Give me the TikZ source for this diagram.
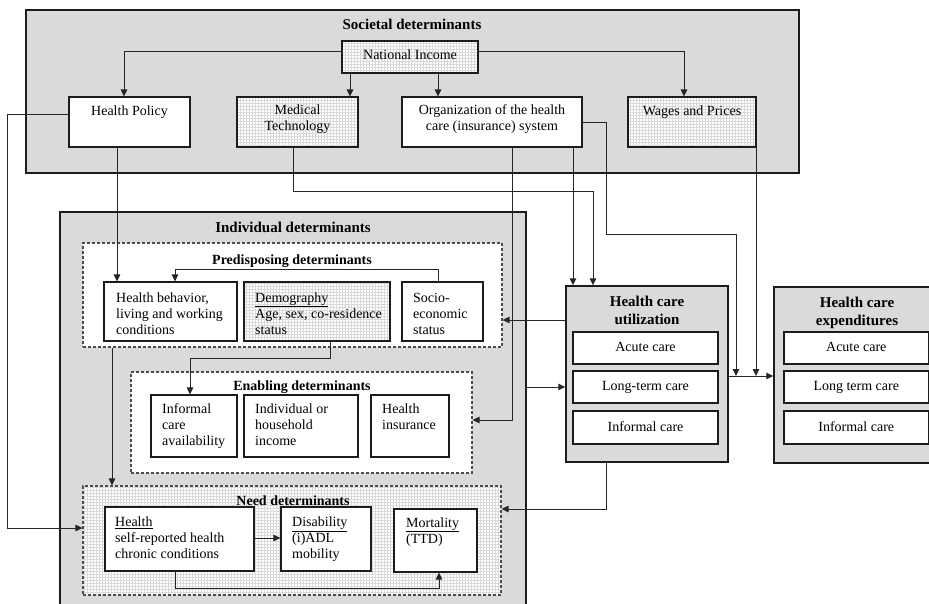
\documentclass[tikz,border=0pt]{standalone}
\usepackage{fontspec}
\setmainfont{Liberation Serif}
\usetikzlibrary{arrows.meta,patterns}
\definecolor{boxgray}{RGB}{217,218,220}
\definecolor{lineC}{RGB}{28,28,28}
\begin{document}
\begin{tikzpicture}[x=1pt,y=-1pt,
  big/.style={draw=lineC, line width=1.4pt, fill=boxgray, inner sep=0pt},
  wbox/.style={draw=lineC, line width=1.1pt, fill=white, inner sep=0pt},
  gbox/.style={draw=lineC, line width=1.1pt, preaction={fill=white}, pattern=grid, pattern color=black!15, inner sep=0pt},
  dbox/.style={draw=black!70, line width=1.1pt, dash pattern=on 3pt off 2pt, fill=white, inner sep=0pt},
  ndbox/.style={draw=black!70, line width=1.1pt, dash pattern=on 3pt off 2pt, preaction={fill=white}, pattern=grid, pattern color=black!15, inner sep=0pt},
  cbox/.style={wbox, font=\fontsize{14}{16}\selectfont, text height=7pt, text depth=0pt},
  tx/.style={font=\fontsize{14}{16}\selectfont, inner sep=0pt},
  ttl/.style={font=\bfseries\fontsize{15}{18}\selectfont, inner sep=0pt, align=center},
  sttl/.style={font=\bfseries\fontsize{14}{16}\selectfont, inner sep=0pt},
  con/.style={draw=black!85, line width=0.9pt},
  arr/.style={con, -{Triangle[length=7pt,width=6.5pt]}},
]
\useasboundingbox (0,0) rectangle (929,604);

% ---------- Societal determinants ----------
\node[big, minimum width=773, minimum height=163] (soc) at (412.5,91.5) {};
\node[ttl, anchor=base] (tSoc) at (412,30) {Societal determinants};
\node[gbox, minimum width=136, minimum height=32] (ni) at (410,57) {};
\node[tx, anchor=base] (tNI) at (410,60) {National Income};
\node[wbox, minimum width=121, minimum height=50] (hp) at (129.5,122) {};
\node[tx, anchor=base] (tHP) at (129.5,115.5) {Health Policy};
\node[gbox, minimum width=121, minimum height=50] (mt) at (297.5,122) {};
\node[tx, anchor=base, align=center] (tMT) at (297.5,131) {Medical\\Technology};
\node[wbox, minimum width=180, minimum height=50] (org) at (492,122) {};
\node[tx, anchor=base, align=center] (tOrg) at (492,131) {Organization of the health\\care (insurance) system};
\node[gbox, minimum width=128, minimum height=50] (wp) at (692,122) {};
\node[tx, anchor=base] (tWP) at (692,115.5) {Wages and Prices};

% ---------- Individual determinants ----------
\node[big, minimum width=466, minimum height=408] (indiv) at (293,416) {};
\node[ttl, anchor=base] (tInd) at (293,233) {Individual determinants};

\node[dbox, minimum width=419, minimum height=104] (pred) at (292.5,295) {};
\node[sttl, anchor=base] (tPred) at (292,264) {Predisposing determinants};
\node[wbox, minimum width=133, minimum height=59] (hb) at (170.5,311.5) {};
\node[tx, anchor=base west, align=left] (tHB) at (116,334) {Health behavior,\\living and working\\conditions};
\node[gbox, minimum width=146, minimum height=59] (demo) at (317,311.5) {};
\node[tx, anchor=base west, align=left] (tDemo) at (255,334) {\underline{Demography}\\Age, sex, co-residence\\status};
\node[wbox, minimum width=81, minimum height=59] (socio) at (442.5,311.5) {};
\node[tx, anchor=base west, align=left] (tSocio) at (413,334) {Socio-\\economic\\status};

\node[dbox, minimum width=341, minimum height=101] (enab) at (301.5,422.5) {};
\node[sttl, anchor=base] (tEnab) at (302,390) {Enabling determinants};
\node[wbox, minimum width=86, minimum height=62] (ica) at (194,426) {};
\node[tx, anchor=base west, align=left] (tICA) at (162,445) {Informal\\care\\availability};
\node[wbox, minimum width=114, minimum height=62] (ihi) at (301,426) {};
\node[tx, anchor=base west, align=left] (tIHI) at (255,445) {Individual or\\household\\income};
\node[wbox, minimum width=78, minimum height=62] (hi) at (410,426) {};
\node[tx, anchor=base west, align=left] (tHI) at (382,429) {Health\\insurance};

\node[ndbox, minimum width=418, minimum height=109] (need) at (292,540.5) {};
\node[sttl, anchor=base] (tNeed) at (293,505) {Need determinants};
\node[wbox, minimum width=149, minimum height=64] (health) at (179.5,539) {};
\node[tx, anchor=base west, align=left] (tHealth) at (115,558.5) {\underline{Health}\\self-reported health\\chronic conditions};
\node[wbox, minimum width=90, minimum height=64] (disab) at (326,539) {};
\node[tx, anchor=base west, align=left] (tDisab) at (292,558.5) {\underline{Disability}\\(i)ADL\\mobility};
\node[wbox, minimum width=83, minimum height=63] (mort) at (435.5,540.5) {};
\node[tx, anchor=base west, align=left] (tMort) at (406,543) {\underline{Mortality}\\(TTD)};

% ---------- Health care utilization ----------
\node[big, minimum width=162, minimum height=176] (hcu) at (647,374) {};
\node[ttl, anchor=base] (tHCU) at (647,324) {Health care\\utilization};
\node[cbox, minimum width=145, minimum height=32] (hcu1) at (645.5,348) {Acute care};
\node[cbox, minimum width=145, minimum height=32] (hcu2) at (645.5,387) {Long-term care};
\node[cbox, minimum width=145, minimum height=33] (hcu3) at (645.5,427.5) {Informal care};

% ---------- Health care expenditures ----------
\node[big, minimum width=166, minimum height=176] (hce) at (857,375) {};
\node[ttl, anchor=base] (tHCE) at (857,325) {Health care\\expenditures};
\node[cbox, minimum width=144.5, minimum height=32] (hce1) at (856.25,348) {Acute care};
\node[cbox, minimum width=144.5, minimum height=32] (hce2) at (856.25,387) {Long term care};
\node[cbox, minimum width=144.5, minimum height=33] (hce3) at (856.25,427.5) {Informal care};

% ---------- connectors ----------
\coordinate (j1) at (736,376);
\coordinate (j2) at (756,376);
\draw[arr] (ni.west |- 0,51) -| (hp.north -| 124,0);
\draw[arr] (ni.south -| 350,0) -- (mt.north -| 350,0);
\draw[arr] (ni.south -| 438,0) -- (org.north -| 438,0);
\draw[arr] (ni.east |- 0,51) -| (wp.north -| 684,0);
\draw[arr] (hp.west |- 0,114) -- (7,114) |- (need.west |- 0,528);
\draw[arr] (hp.south -| 117,0) -- (hb.north -| 117,0);
\draw[arr] (mt.south -| 293,0) |- (593,191) -- (hcu.north -| 593,0);
\draw[arr] (org.south -| 573,0) -- (hcu.north -| 573,0);
\draw[arr] (org.south -| 512,0) |- (enab.east |- 0,420);
\draw[arr] (org.east |- 0,122) -| (606,234) -| (j1);
\draw[arr] (wp.south -| 756,0) -- (j2);
\draw[arr] (hcu.east |- 0,376) -- (hce.west |- 0,376);
\draw[arr] (hcu.west |- 0,320) -- (pred.east |- 0,320);
\draw[arr] (indiv.east |- 0,387) -- (hcu.west |- 0,387);
\draw[arr] (hcu.south -| 606,0) |- (need.east |- 0,509);
\draw[arr] (socio.north -| 438,0) |- (175,269) -- (hb.north -| 175,0);
\draw[arr] (demo.south -| 330,0) |- (190,358) -- (ica.north -| 190,0);
\draw[arr] (pred.south -| 112,0) -- (need.north -| 112,0);
\draw[arr] (health.east |- 0,538) -- (disab.west |- 0,538);
\draw[arr] (health.south -| 175,0) |- (439,588) -- (mort.south -| 439,0);
\end{tikzpicture}
\end{document}
